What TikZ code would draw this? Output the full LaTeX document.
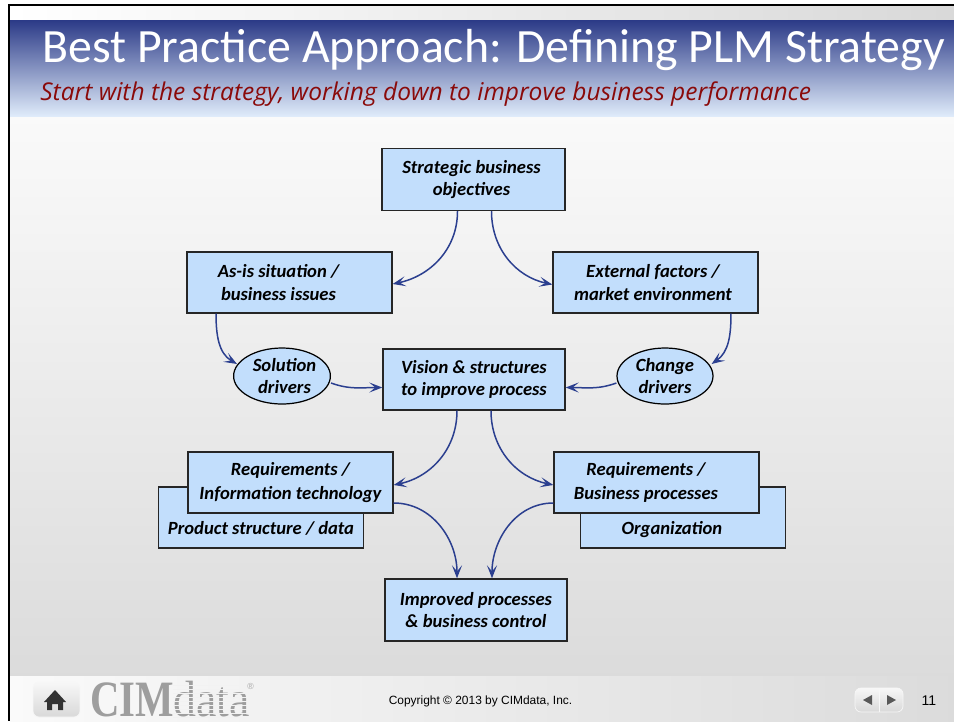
\documentclass[tikz,border=0pt]{standalone}
\usepackage{xcolor}
\usepackage{fontspec}
\setmainfont{Carlito}
\newfontfamily\subfont{Open Sans}
\newfontfamily\logofont{Liberation Serif}
\newfontfamily\footfont{Liberation Sans}
\usetikzlibrary{shapes.geometric, arrows.meta, positioning}
\definecolor{boxblue}{HTML}{C2DEFC}
\definecolor{linkblue}{HTML}{2B3F8F}
\definecolor{barblue}{HTML}{2B3A87}
\definecolor{barpale}{HTML}{DFEBFA}
\definecolor{subred}{HTML}{8A0A0A}
\tikzset{
    stagebox/.style={rectangle, draw=black!85, fill=boxblue, line width=0.8pt, minimum width=4.1cm, minimum height=1.22cm, inner sep=0pt, align=center, font=\bfseries\itshape\fontsize{10.6}{12.6}\selectfont},
    driver/.style={ellipse, draw=black, fill=boxblue, line width=0.7pt, minimum width=1.92cm, minimum height=1.12cm, inner sep=0pt, align=center, font=\bfseries\itshape\fontsize{10.6}{12.6}\selectfont},
    link/.style={draw=linkblue, line width=0.85pt, -{Stealth[length=2.6mm, width=2mm, inset=1.2mm]}},
    navbutton/.style={rectangle, rounded corners=0.12cm, draw=black!3, top color=black!3, bottom color=black!15},
    footnote/.style={inner sep=0pt, font=\footfont\fontsize{6.8}{8}\selectfont}
}
\begin{document}
\begin{tikzpicture}[x=0.02cm, y=-0.02cm]
    \useasboundingbox (0,0) rectangle (954,721);

    % Slide background
    \shade[left color=white, right color=black!15] (10,6) rectangle (954,20);
    \shade[top color=black!2, bottom color=black!14] (10,116) rectangle (954,676);
    \shade[left color=black!2, right color=black!14] (10,676) rectangle (954,721);
    \shade[top color=barblue, middle color=barblue!42!barpale, bottom color=barpale] (10,20) rectangle (954,116);
    \fill[black] (8,4) rectangle (954,6);
    \fill[black] (8,4) rectangle (10,721);

    % Headings
    \node[anchor=base west, inner sep=0pt, text=white, font=\fontsize{27.2}{30}\selectfont] (title) at (42,62) {Best Practice Approach: Defining PLM Strategy};
    \node[anchor=base west, inner sep=0pt, text=subred, font=\subfont\itshape\fontsize{13.95}{16}\selectfont] (subtitle) at (40,100) {Start with the strategy, working down to improve business performance};

    % Stages
    \node[stagebox, minimum width=3.66cm, minimum height=1.24cm] (objectives) at (473.5,179.5) {Strategic business\hspace*{0.08cm}\\objectives\hspace*{0.08cm}};
    \node[stagebox] (asis) at (289.5,282.5) {As-is situation /\hspace*{0.44cm}\\business issues\hspace*{0.44cm}};
    \node[stagebox] (external) at (655.5,282.5) {External factors /\hspace*{0.1cm}\\market environment\hspace*{0.1cm}};
    \node[driver] (solution) at (282,376) {\hspace*{0.1cm}Solution\\\hspace*{0.1cm}drivers};
    \node[driver] (change) at (665,376) {Change\\drivers};
    \node[stagebox, minimum width=3.64cm] (vision) at (474,379.5) {Vision \& structures\\to improve process};

    % Stacked boxes, back ones first
    \node[stagebox, text height=0.70cm] (product) at (261,517.5) {Product structure / data};
    \node[stagebox, text height=0.75cm] (organization) at (683,517.5) {Organization\hspace*{0.44cm}};
    \node[stagebox] (reqit) at (290.5,482.5) {Requirements /\\[1pt]Information technology};
    \node[stagebox] (reqbp) at (656.5,482.5) {Requirements /\hspace*{0.42cm}\\[1pt]Business processes\hspace*{0.42cm}};
    \node[stagebox, minimum width=3.64cm, minimum height=1.24cm] (improved) at (476,610) {Improved processes\\\& business control};

    % Links
    \draw[link] ([xshift=-0.32cm]objectives.south) to[out=-90, in=12] ([yshift=-0.03cm]asis.east);
    \draw[link] ([xshift=0.36cm]objectives.south) to[out=-90, in=168] ([yshift=-0.04cm]external.west);
    \draw[link] ([xshift=-1.47cm]asis.south) to[out=-90, in=150] ([shift={(0.08cm,0.24cm)}]solution.west);
    \draw[link] ([yshift=-0.14cm]solution.east) to[out=-20, in=180] ([yshift=-0.16cm]vision.west);
    \draw[link] ([xshift=1.51cm]external.south) to[out=-90, in=35] ([shift={(-0.04cm,0.24cm)}]change.east);
    \draw[link] ([yshift=-0.14cm]change.west) to[out=200, in=0] ([yshift=-0.16cm]vision.east);
    \draw[link] ([xshift=-0.34cm]vision.south) to[out=-90, in=12] ([yshift=-0.05cm]reqit.east);
    \draw[link] ([xshift=0.34cm]vision.south) to[out=-90, in=168] ([yshift=-0.05cm]reqbp.west);
    \draw[link] ([yshift=-0.41cm]reqit.east) to[out=0, in=90] ([xshift=-0.38cm]improved.north);
    \draw[link] ([yshift=-0.41cm]reqbp.west) to[out=180, in=90] ([xshift=0.32cm]improved.north);

    % Footer
    \node[navbutton, minimum width=0.94cm, minimum height=0.7cm] (home) at (56.5,699.5) {};
    \fill[black!80] (55,690) -- (66,702) -- (63,702) -- (63,710) -- (58,710) -- (58,704) -- (52,704) -- (52,710) -- (47,710) -- (47,702) -- (44,702) -- cycle;
    \node[anchor=base west, inner sep=0pt, text=black!38, font=\logofont\bfseries\fontsize{29}{29}\selectfont] (cim) at (90,716) {\scalebox{0.8}[1]{CIM}};
    \node[anchor=base west, inner sep=0pt, text=black!38, font=\logofont\fontsize{29}{29}\selectfont] (datamark) at (173,716) {\scalebox{0.9}[1]{data}};
    \foreach \y in {685,689,...,717} {
        \draw[black!5, line width=0.4pt] (173,\y) -- (248,\y);
    }
    \node[right=0pt of datamark.north east, inner sep=0pt, text=black!35, font=\footfont\fontsize{5}{5}\selectfont, yshift=-0.12cm, xshift=-0.06cm] (regmark) {®};
    \node[footnote] (copyright) at (480.5,701) {Copyright © 2013 by CIMdata, Inc.};
    \node[navbutton, minimum width=0.96cm, minimum height=0.48cm] (nav) at (879,700) {};
    \draw[black!3, line width=0.5pt] (nav.north) -- (nav.south);
    \fill[black!65] (863,700) -- (872,695) -- (872,705) -- cycle;
    \fill[black!65] (896,700) -- (887,695) -- (887,705) -- cycle;
    \node[footnote, font=\footfont\fontsize{8}{9}\selectfont] (pagenum) at (929,700.5) {11};
\end{tikzpicture}
\end{document}
